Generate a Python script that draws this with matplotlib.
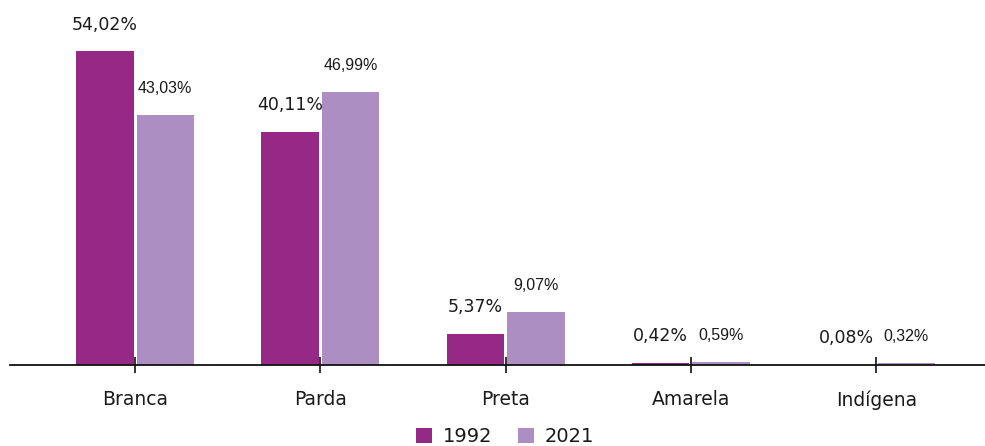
import matplotlib.pyplot as plt
import numpy as np

# === Data ===
categories = ["Branca", "Parda", "Preta", "Amarela", "Indígena"]
values_1992 = [54.02, 40.11, 5.37, 0.42, 0.08]
values_2021 = [43.03, 46.99, 9.07, 0.59, 0.32]
labels_1992 = ["54,02%", "40,11%", "5,37%", "0,42%", "0,08%"]
labels_2021 = ["43,03%", "46,99%", "9,07%", "0,59%", "0,32%"]

# === Style ===
COLOR_1992 = "#952985"
COLOR_2021 = "#ac8ec2"
TEXT = "#1a1a1a"
plt.rcParams['font.family'] = ['DejaVu Sans']

fig = plt.figure(figsize=(9.85, 4.46), dpi=100)
ax = fig.add_axes([10 / 985, 81 / 446, 975 / 985, 365 / 446])

x = np.arange(len(categories))
width = 0.31
off = 0.163

b1 = ax.bar(x - off, values_1992, width, color=COLOR_1992, label="1992", zorder=2)
b2 = ax.bar(x + off, values_2021, width, color=COLOR_2021, label="2021", zorder=2)

# value labels above bars (offset in points)
for xi, v, s in zip(x, values_1992, labels_1992):
    ax.annotate(s, (xi - off, v), xytext=(0, 19), textcoords="offset points",
                ha="center", va="center", fontsize=12.5, color=TEXT)
# 2021 labels use a narrower face, same height
for xi, v, s in zip(x, values_2021, labels_2021):
    ax.annotate(s, (xi + off, v), xytext=(0, 19), textcoords="offset points",
                ha="center", va="center", fontsize=11.5, color=TEXT,
                family="Liberation Sans")

ax.set_xlim(-0.675, 4.587)
ax.set_ylim(0, 62.8)
ax.set_xticks(x)
ax.set_xticklabels(categories, fontsize=13.5, color=TEXT)
ax.tick_params(axis="x", direction="inout", length=12, width=1.2, color="#111111", pad=12)
ax.set_yticks([])
for side in ["left", "top", "right"]:
    ax.spines[side].set_visible(False)
ax.spines["bottom"].set_linewidth(1.3)
ax.spines["bottom"].set_color("#111111")
ax.spines["bottom"].set_zorder(3)
ax.set_axisbelow(False)

fig.legend(handles=[b1, b2], loc="center", bbox_to_anchor=(505 / 985, 9 / 446),
           ncol=2, frameon=False, fontsize=14, handlelength=0.82, handleheight=0.82,
           handletextpad=0.57, columnspacing=1.3, labelcolor=TEXT)

fig.savefig("out.png", dpi=100)
